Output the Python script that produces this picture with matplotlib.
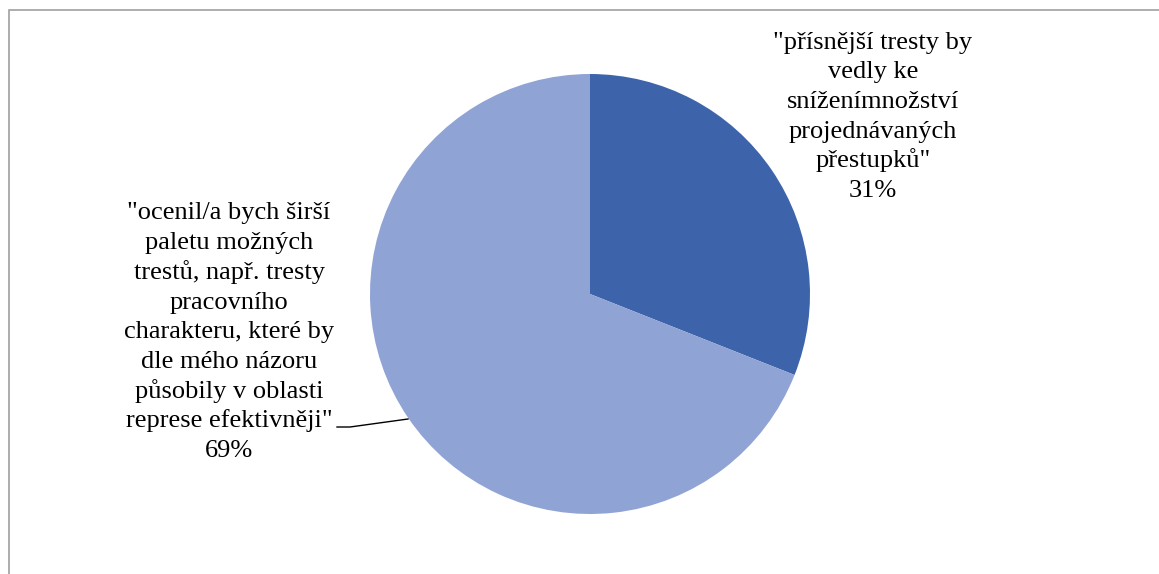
import matplotlib
matplotlib.use("Agg")
import matplotlib.pyplot as plt
from matplotlib.patches import Rectangle

W, H = 1159, 574

labels = ['"přísnější tresty by\nvedly ke\nsníženímnožství\nprojednávaných\npřestupků"',
          '"ocenil/a bych širší\npaletu možných\ntrestů, např. tresty\npracovního\ncharakteru, které by\ndle mého názoru\npůsobily v oblasti\nreprese efektivněji"']
shares = [31, 69]
colors = ['#3D64AB', '#8FA3D4']

plt.rcParams['font.family'] = ['Liberation Serif', 'DejaVu Serif']

fig = plt.figure(figsize=(W / 100, H / 100), dpi=100)
ax = fig.add_axes([0, 0, 1, 1])

# frame of the chart area (cut off on right and bottom)
fig.patches.append(Rectangle((8.5 / W, -0.1), 1.2, (H - 9.5) / H + 0.1,
                             transform=fig.transFigure, fill=False,
                             edgecolor='#a0a0a0', linewidth=1.2))

cx, cy, r = 590, H - 294, 220
ax.pie(shares, colors=colors, startangle=90, counterclock=False,
       center=(cx, cy), radius=r, frame=True,
       wedgeprops=dict(linewidth=0))
ax.set_xlim(0, W)
ax.set_ylim(0, H)
ax.set_aspect('equal')
ax.axis('off')


def label(x, y_last, text, step=29.7):
    # one text per line so accents don't change the line spacing
    lines = text.split('\n')
    n = len(lines)
    for i, s in enumerate(lines):
        ax.text(x, H - y_last + (n - 1 - i) * step, s, ha='center',
                va='baseline', fontsize=19)


label(873, 197, labels[0] + '\n%d%%' % shares[0])
label(229, 457, labels[1] + '\n%d%%' % shares[1])

# leader line for the big slice
ax.plot([337, 350, 408], [H - 427, H - 427, H - 419], color='black', linewidth=1)

fig.savefig('out.png', dpi=100)
